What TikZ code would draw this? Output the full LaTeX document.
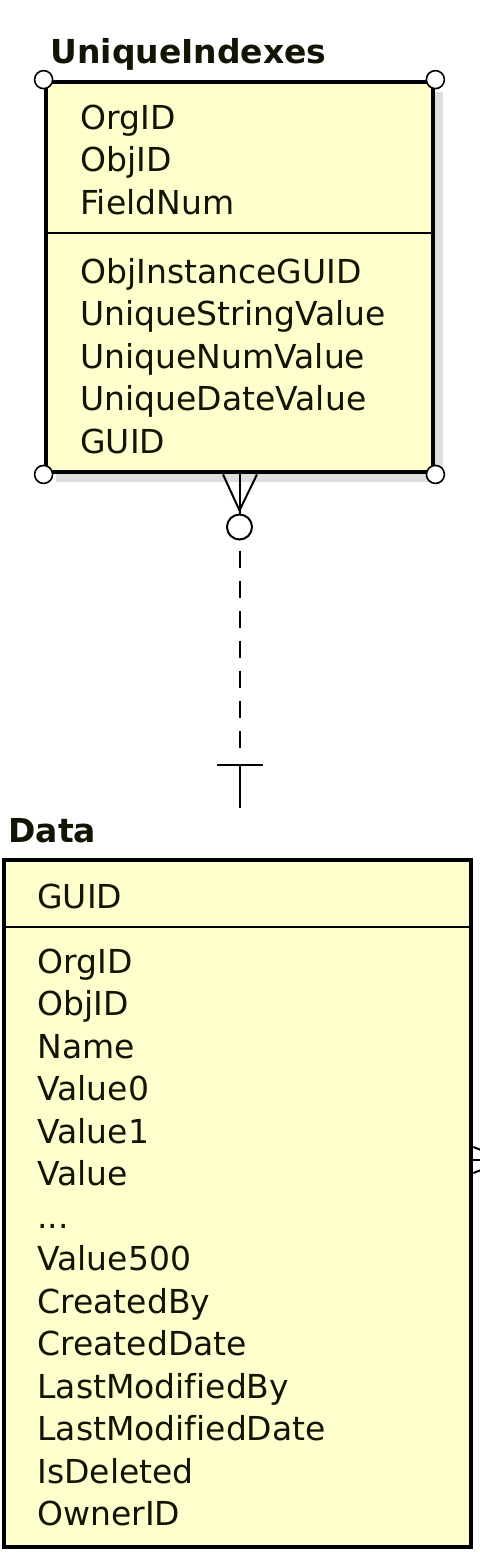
\documentclass[tikz,border=0pt]{standalone}
\usepackage{fontspec}
\setmainfont[Ligatures=NoCommon]{DejaVu Sans}
\usepackage{tikz}
\usetikzlibrary{positioning,shadows}
\definecolor{entityfill}{RGB}{255,255,206}
\definecolor{ink}{RGB}{20,20,5}
\tikzstyle{entity} = [rectangle, draw, line width=2.4pt, fill=entityfill]
\tikzstyle{attr} = [text width=170pt, align=left, inner sep=0pt, text height=12.5pt, text depth=4pt, text=ink, font=\fontsize{16.5pt}{20pt}\selectfont]
\tikzstyle{etitle} = [anchor=base west, inner sep=0pt, text=ink, font=\bfseries\fontsize{16.5pt}{20pt}\selectfont]
\tikzstyle{corner} = [circle, draw, fill=white, line width=0.8pt, minimum size=9pt, inner sep=0pt]
\tikzstyle{opt} = [circle, draw, fill=white, line width=1pt, minimum size=12.5pt, inner sep=0pt]
\tikzstyle{relline} = [line width=1pt]

\begin{document}
\begin{tikzpicture}[x=0.5pt,y=-0.5pt,node distance=21.25pt]
  \useasboundingbox (0,0) rectangle (480,1555);

  % entities
  \node[entity, drop shadow={shadow xshift=5pt, shadow yshift=-5pt, fill=black!13, opacity=1}, minimum width=193.5pt, minimum height=195pt] (UI) at (239.5,277) {};
  \node[entity, minimum width=233.5pt, minimum height=343.5pt] (D) at (237.5,1203.5) {};
  \draw[line width=1pt] (UI.west |- 0,233) -- (UI.east |- 0,233);
  \draw[line width=1pt] (D.west |- 0,927) -- (D.east |- 0,927);
  \foreach \c/\n in {north west/nw,north east/ne,south west/sw,south east/se}
    \node[corner] (UI_\n) at (UI.\c) {};

  \node[etitle] (UI_title) at (50,63) {UniqueIndexes};
  \node[etitle] (D_title) at (8,842) {Data};

  \node[attr, anchor=west] (UI_OrgID) at (80,120.5) {OrgID};
  \node[attr] (UI_ObjID) [below of=UI_OrgID] {ObjID};
  \node[attr] (UI_FieldNum) [below of=UI_ObjID] {FieldNum};
  \node[attr, node distance=34.5pt] (UI_ObjInstanceGUID) [below of=UI_FieldNum] {ObjInstanceGUID};
  \node[attr] (UI_UniqueStringValue) [below of=UI_ObjInstanceGUID] {UniqueStringValue};
  \node[attr] (UI_UniqueNumValue) [below of=UI_UniqueStringValue] {UniqueNumValue};
  \node[attr] (UI_UniqueDateValue) [below of=UI_UniqueNumValue] {UniqueDateValue};
  \node[attr] (UI_GUID) [below of=UI_UniqueDateValue] {GUID};

  \node[attr, anchor=west] (D_GUID) at (37,899.5) {GUID};
  \node[attr, node distance=32.5pt] (D_OrgID) [below of=D_GUID] {OrgID};
  \node[attr] (D_ObjID) [below of=D_OrgID] {ObjID};
  \node[attr] (D_Name) [below of=D_ObjID] {Name};
  \node[attr] (D_Value0) [below of=D_Name] {Value0};
  \node[attr] (D_Value1) [below of=D_Value0] {Value1};
  \node[attr] (D_Value) [below of=D_Value1] {Value};
  \node[attr] (D_dots) [below of=D_Value] {...};
  \node[attr] (D_Value500) [below of=D_dots] {Value500};
  \node[attr] (D_CreatedBy) [below of=D_Value500] {CreatedBy};
  \node[attr] (D_CreatedDate) [below of=D_CreatedBy] {CreatedDate};
  \node[attr] (D_LastModifiedBy) [below of=D_CreatedDate] {LastModifiedBy};
  \node[attr] (D_LastModifiedDate) [below of=D_LastModifiedBy] {LastModifiedDate};
  \node[attr] (D_IsDeleted) [below of=D_LastModifiedDate] {IsDeleted};
  \node[attr] (D_OwnerID) [below of=D_IsDeleted] {OwnerID};

  % relationship
  \node[opt] (UI_opt) at (239.5,527) {};
  \coordinate (UI_tip) at ([yshift=-18pt]UI.south);
  \coordinate (D_bar) at (239.5,765);
  \coordinate (D_end) at (239.5,808);
  \draw[relline] ([xshift=-8.25pt]UI.south) -- (UI_tip) -- ([xshift=8.75pt]UI.south);
  \draw[relline] (UI.south) -- (UI_opt);
  \draw[relline, dash pattern=on 8.5pt off 6.5pt, dash phase=10pt] (UI_opt) -- ([yshift=4pt]D_bar);
  \draw[relline] ([xshift=-11.5pt]D_bar) -- ([xshift=11.5pt]D_bar);
  \draw[relline] (D_bar) -- (D_end);

  \coordinate (D_rel) at (D.east |- 0,1160);
  \draw[relline] (D_rel) -- ++(10,0);
  \draw[relline] ([yshift=6.5pt]D_rel) -- ++(10,4);
  \draw[relline] ([yshift=-6.5pt]D_rel) -- ++(10,-4);
\end{tikzpicture}
\end{document}
